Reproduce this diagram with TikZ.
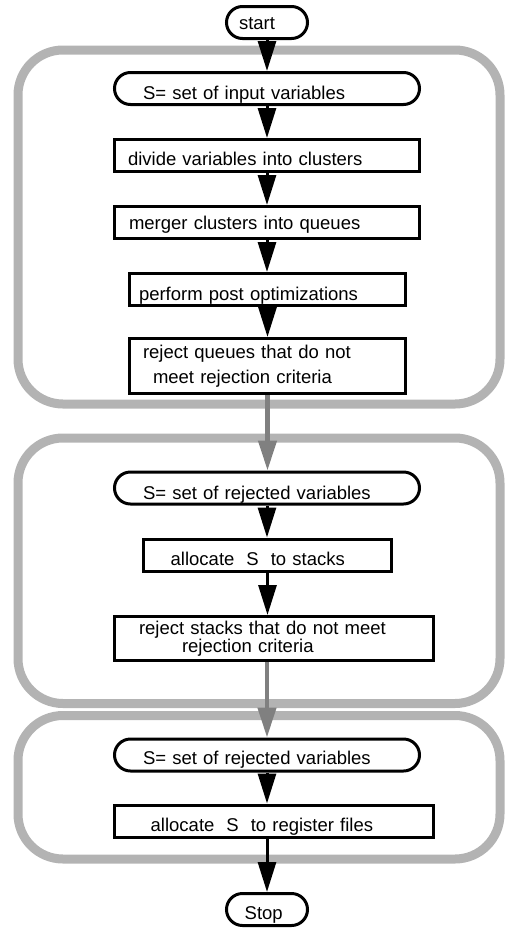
\documentclass[tikz,border=0pt]{standalone}
\usepackage{fontspec}
\setmainfont{Liberation Sans}
\usetikzlibrary{arrows.meta}
\definecolor{framegray}{HTML}{B3B3B3}
\definecolor{arrowgray}{HTML}{808080}
\tikzset{
	arrow/.style={line width=3pt, -{Triangle[width=18pt, length=30pt]}},
	grayarrow/.style={arrow, draw=arrowgray, line width=4.5pt},
	group/.style={draw=framegray, line width=9pt, rounded corners=45pt},
	stepbox/.style={draw, line width=3pt, align=left, minimum height=32pt, inner ysep=2pt},
	oneline/.style={stepbox, text height=24pt, text depth=4pt},
	termbox/.style={oneline, rounded corners=16pt},
}

\begin{document}
\begin{tikzpicture}[x=1pt, y=-1pt, font=\fontsize{18.5}{22}\selectfont]
	\useasboundingbox (0,0) rectangle (504,930);

	\draw[group] (18,50) rectangle (500,404);
	\draw[group] (18,438) rectangle (500,703.5);
	\draw[group] (18,715.5) rectangle (500,859);

	\node[termbox, text width=56pt, inner xsep=12.5pt, text height=21pt, text depth=7pt] (start) at (267,22.5) {start};

	\node[termbox, text width=248pt, inner xsep=28.5pt, text height=25pt, text depth=3pt] (inputs) at (267,88.5) {S= set of input variables};
	\node[oneline, text width=278pt, inner xsep=13.5pt] (divide) at (267,155.5) {divide variables into clusters};
	\node[oneline, text width=276pt, inner xsep=14.5pt, text height=20.5pt, text depth=7.5pt] (merge) at (267,222.5) {merger clusters into queues};
	\node[oneline, text width=257pt, inner xsep=9.5pt, text height=25pt, text depth=3pt] (postopt) at (267.5,289.5) {perform post optimizations};
	\node[stepbox, text width=249pt, inner xsep=13.5pt, minimum height=55pt, font=\fontsize{18.5}{25.4}\selectfont] (rejqueue) at (267.5,366) {reject queues that do not\\\hspace*{10pt}meet rejection criteria};

	\node[termbox, text width=248pt, inner xsep=28.5pt, text height=25pt, text depth=3pt] (rejvars) at (267,488) {S= set of rejected variables};
	\node[oneline, text width=193.6pt, inner xsep=27.2pt] (stacks) at (267.5,555) {allocate\hspace{12pt}S\hspace{12pt}to stacks};
	\node[stepbox, text width=270pt, inner xsep=24.5pt, minimum height=44pt, font=\fontsize{18.5}{12.7}\selectfont] (rejstack) at (274,638.5) {reject stacks that do not meet\\\hspace*{43pt}rejection criteria};

	\node[termbox, text width=248pt, inner xsep=28.5pt, text height=23pt, text depth=5pt] (rejvars2) at (267,755) {S= set of rejected variables};
	\node[oneline, text width=246.6pt, inner xsep=36.2pt] (regfiles) at (274,821) {allocate\hspace{12pt}S\hspace{12pt}to register files};

	\node[termbox, text width=44.6pt, inner xsep=18.2pt] (stop) at (267,909.5) {Stop};

	\draw[arrow] (start) -- (start |- inputs.north);
	\draw[arrow] (inputs) -- (divide);
	\draw[arrow] (divide) -- (merge);
	\draw[arrow] (merge) -- (merge |- postopt.north);
	\draw[arrow] (postopt) -- (rejqueue);
	\draw[grayarrow] (rejqueue) -- (rejqueue |- rejvars.north);
	\draw[arrow] (rejvars) -- (rejvars |- stacks.north);
	\draw[arrow] (stacks) -- (stacks |- rejstack.north);
	\draw[grayarrow] (rejstack.south -| rejvars2) -- (rejvars2);
	\draw[arrow] (rejvars2) -- (rejvars2 |- regfiles.north);
	\draw[arrow] (regfiles.south -| stop) -- (stop);
\end{tikzpicture}
\end{document}
